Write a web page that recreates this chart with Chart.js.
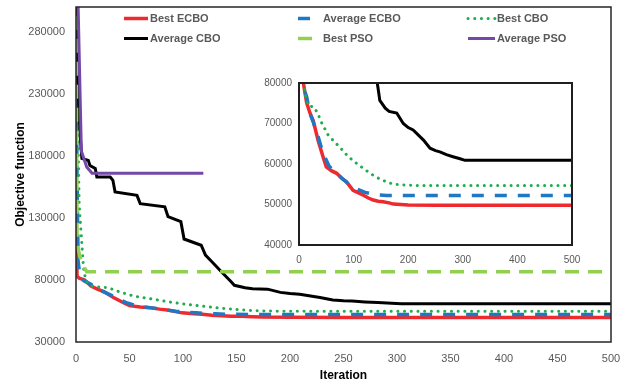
<!DOCTYPE html>
<html>
<head>
<meta charset="utf-8">
<script src="https://cdn.jsdelivr.net/npm/chart.js@4.4.0/dist/chart.umd.min.js"></script>
<style>
html, body { margin: 0; padding: 0; background: #fff; }
#wrap { position: relative; width: 627px; height: 385px; }
#main { position: absolute; left: 0; top: 0; }
#inset { position: absolute; left: 255px; top: 73px; }
</style>
</head>
<body>
<div id="wrap">
  <canvas id="main" width="627" height="385"></canvas>
  <canvas id="inset" width="330" height="200"></canvas>
</div>
<script>
// iteration / objective value pairs
var bestEcboIter = [0, 1, 3, 8, 14, 20, 26, 35, 44, 50, 60, 69, 78, 87, 99, 110, 118, 127, 136, 145, 154, 165, 173, 200, 250, 500];
var bestEcboVal  = [125000, 83000, 81500, 80000, 75100, 72600, 70700, 65800, 61800, 59300, 58300, 57700, 56500, 55600, 53500, 52800, 52300, 51600, 51100, 50800, 50700, 50400, 50100, 49900, 49800, 49800];

var avgEcboIter = [0, 1, 2, 4, 8, 14, 20, 27, 35, 41, 47, 55, 62, 69, 80, 93, 103, 112, 121, 130, 142, 160, 500];
var avgEcboVal  = [265000, 160000, 95000, 81500, 79000, 76600, 72500, 70000, 66800, 64000, 61800, 59500, 58500, 57700, 56300, 54800, 54000, 53500, 53000, 52700, 52400, 52200, 52200];

var bestCboIter = [0, 1, 3, 5, 7, 9, 12, 16, 28, 35, 41, 54, 65, 75, 87, 99, 112, 124, 136, 148, 160, 173, 195, 216, 500];
var bestCboVal  = [310000, 240000, 140000, 115000, 90000, 80000, 76800, 74500, 74000, 72300, 70300, 67000, 65500, 64100, 62300, 60800, 59500, 58300, 57200, 56300, 55600, 55000, 54800, 54700, 54700];

var avgCboIter = [0, 1, 4, 5.5, 11.5, 13, 18, 19.5, 32, 34.5, 36.5, 57, 60, 83, 86, 98, 101, 117, 121, 127, 137, 145, 148, 158, 165, 179, 191, 200, 209, 228, 240, 250, 258, 270, 282, 295, 304, 500];
var avgCboVal  = [320000, 250000, 195000, 178000, 176300, 172300, 169900, 162900, 162900, 160300, 150900, 148200, 141500, 139000, 131000, 127000, 113000, 108000, 100000, 94700, 85600, 78500, 75700, 73800, 73000, 72600, 70000, 69000, 68400, 65900, 63900, 63300, 63000, 62300, 61800, 61300, 60900, 60900];

var bestPsoIter = [0, 1, 3.5, 8.5, 10, 500];
var bestPsoVal  = [330000, 110000, 99000, 89000, 86700, 86700];

var avgPsoIter = [0, 2, 5, 10, 15, 119];
var avgPsoVal  = [340000, 300000, 184000, 171000, 166000, 166000];

var mainYTicks = [30000, 80000, 130000, 180000, 230000, 280000];

var FONT = "'Liberation Sans', Arial, sans-serif";
var GREY = '#595959';

var series = [
  { label: 'Best ECBO',    it: bestEcboIter, val: bestEcboVal, color: '#ee2a2e', width: 3.5, dash: [],         cap: 'butt' },
  { label: 'Average ECBO', it: avgEcboIter,  val: avgEcboVal,  color: '#1f78c4', width: 3.5, dash: [12, 11],   cap: 'butt' },
  { label: 'Best CBO',     it: bestCboIter,  val: bestCboVal,  color: '#1fae4f', width: 3,   dash: [0.1, 6.6], cap: 'round' },
  { label: 'Average CBO',  it: avgCboIter,   val: avgCboVal,   color: '#000000', width: 3,   dash: [],         cap: 'butt' },
  { label: 'Best PSO',     it: bestPsoIter,  val: bestPsoVal,  color: '#92d050', width: 3.5, dash: [14, 9],    cap: 'butt' },
  { label: 'Average PSO',  it: avgPsoIter,   val: avgPsoVal,   color: '#7448a8', width: 3,   dash: [],         cap: 'butt' }
];

function makeSets() {
  return series.map(function(s, i) {
    return {
      label: s.label,
      data: s.it.map(function(x, k) { return { x: x, y: s.val[k] }; }),
      borderColor: s.color,
      borderWidth: s.width,
      borderDash: s.dash,
      borderCapStyle: s.cap,
      pointRadius: 0,
      tension: 0,
      fill: false,
      order: series.length - i
    };
  });
}

function plain(v) { return String(v); }

function framePlugin(color, width) {
  return {
    id: 'frame',
    afterDatasetsDraw: function(chart) {
      var a = chart.chartArea, ctx = chart.ctx;
      ctx.save();
      ctx.strokeStyle = color;
      ctx.lineWidth = width;
      ctx.strokeRect(a.left, a.top, a.right - a.left, a.bottom - a.top);
      ctx.restore();
    }
  };
}

// legend laid out in 3 columns x 2 rows inside the plot, like the original
var legendPlugin = {
  id: 'gridLegend',
  afterDraw: function(chart) {
    var ctx = chart.ctx;
    var lineStart = [124, 298, 468];
    var textStart = [150, 323, 497];
    var rowY = [18.5, 38.5];
    ctx.save();
    ctx.font = 'bold 11px ' + FONT;
    ctx.textBaseline = 'middle';
    series.forEach(function(s, i) {
      var c = i % 3, r = Math.floor(i / 3);
      var y = rowY[r];
      ctx.beginPath();
      ctx.strokeStyle = s.color;
      ctx.lineWidth = s.width;
      ctx.lineCap = s.cap;
      ctx.setLineDash(s.dash);
      ctx.moveTo(lineStart[c], y);
      ctx.lineTo(textStart[c] - 2, y);
      ctx.stroke();
      ctx.setLineDash([]);
      ctx.fillStyle = GREY;
      ctx.fillText(s.label, textStart[c], y + 0.5);
    });
    ctx.restore();
  }
};

new Chart(document.getElementById('main'), {
  type: 'line',
  data: { datasets: makeSets() },
  options: {
    responsive: false,
    animation: false,
    devicePixelRatio: 1,
    layout: { padding: { left: 0, top: 7, right: 16, bottom: 0 } },
    plugins: { legend: { display: false }, tooltip: { enabled: false } },
    scales: {
      x: {
        type: 'linear', min: 0, max: 500,
        ticks: { stepSize: 50, color: GREY, font: { family: FONT, size: 11 }, padding: 0, maxRotation: 0, autoSkip: false, callback: plain },
        grid: { display: false, drawTicks: true, tickLength: 10 },
        border: { display: false },
        title: { display: true, text: 'Iteration', color: '#000', font: { family: FONT, size: 12, weight: 'bold' }, padding: { top: 0, bottom: 2 } },
        afterFit: function(s) { s.height = 43; }
      },
      y: {
        type: 'linear', min: 30000, max: 300000,
        afterBuildTicks: function(s) { s.ticks = mainYTicks.map(function(v) { return { value: v }; }); },
        ticks: { color: GREY, font: { family: FONT, size: 11 }, padding: 0, callback: plain },
        grid: { display: false, drawTicks: true, tickLength: 11 },
        border: { display: false },
        title: { display: true, text: 'Objective function', color: '#000', font: { family: FONT, size: 12, weight: 'bold' }, padding: { top: 13, bottom: 0 } },
        afterFit: function(s) { s.width = 76; }
      }
    }
  },
  plugins: [framePlugin('#262626', 1.5), legendPlugin]
});

new Chart(document.getElementById('inset'), {
  type: 'line',
  data: { datasets: makeSets() },
  options: {
    responsive: false,
    animation: false,
    devicePixelRatio: 1,
    layout: { padding: { left: 0, top: 10, right: 13, bottom: 0 } },
    plugins: { legend: { display: false }, tooltip: { enabled: false } },
    scales: {
      x: {
        type: 'linear', min: 0, max: 500,
        ticks: { stepSize: 100, color: GREY, font: { family: FONT, size: 10 }, padding: 0, maxRotation: 0, callback: plain },
        grid: { display: false, drawTicks: true, tickLength: 9 },
        border: { display: false },
        afterFit: function(s) { s.height = 28; }
      },
      y: {
        type: 'linear', min: 40000, max: 80000,
        ticks: { stepSize: 10000, color: GREY, font: { family: FONT, size: 10 }, padding: 0, callback: plain },
        grid: { display: false, drawTicks: true, tickLength: 7 },
        border: { display: false },
        afterFit: function(s) { s.width = 44; }
      }
    }
  },
  plugins: [framePlugin('#1f1f1f', 2)]
});
</script>
</body>
</html>
